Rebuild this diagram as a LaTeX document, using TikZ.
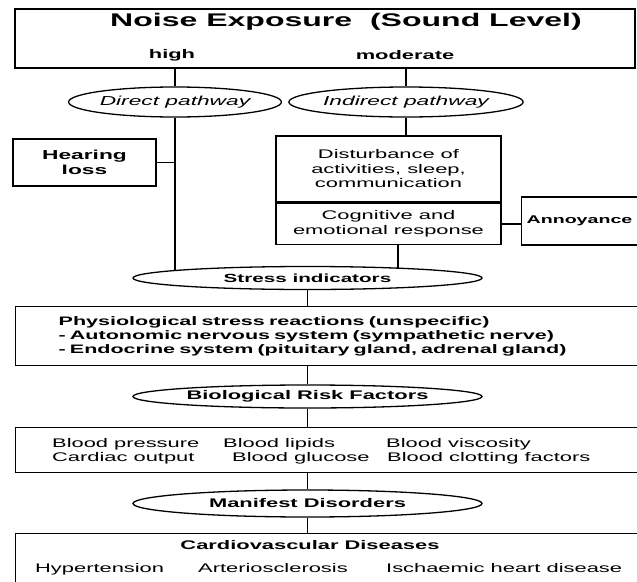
\documentclass[tikz,border=0pt]{standalone}
\usepackage{fontspec}
\setmainfont{Liberation Sans}[FakeStretch=1.75]
\usetikzlibrary{shapes.geometric,backgrounds}

\tikzset{
  panel/.style={draw, line width=1.3pt, rectangle, inner sep=0pt},
  lens/.style={draw, line width=1.3pt, ellipse, fill=white, inner sep=0pt},
  wire/.style={line width=1.7pt},
  entry/.style={inner sep=0pt, anchor=base west},
  big/.style={font=\fontsize{18.3}{20}\selectfont\bfseries},
  bold/.style={font=\fontsize{12.5}{14}\selectfont\bfseries},
  plain/.style={font=\fontsize{12.5}{14.5}\selectfont},
  slant/.style={font=\fontsize{13}{15}\selectfont\itshape},
}

\begin{document}
\begin{tikzpicture}[x=1pt, y=-1pt]
  \useasboundingbox (0,0) rectangle (637,581);

  % ==========================================
  % TOP: Noise exposure and the two pathways
  % ==========================================

  \node[panel, minimum width=620, minimum height=59] (noise) at (325,38.5) {};
  \node[big]  (title)    at (346,22) {Noise Exposure\ \ (Sound Level)};
  \node[bold] (high)     at (172,55) {high};
  \node[bold] (moderate) at (405,55) {moderate};

  \node[lens, slant, minimum width=205, minimum height=30] (direct)   at (175,102) {Direct pathway};
  \node[lens, slant, minimum width=213, minimum height=30] (indirect) at (406,102) {Indirect pathway};

  % Side effects of the pathways
  \node[panel, align=center, minimum width=143, minimum height=47,
        font=\fontsize{13}{15}\selectfont\bfseries] (hearing) at (84.5,162.5) {Hearing\\loss};
  \node[panel, plain, align=center, minimum width=225, minimum height=66] (disturb) at (388.5,169)
    {Disturbance of\\activities, sleep,\\communication};
  \node[panel, plain, align=center, minimum width=225, minimum height=41, anchor=north] (cognit) at (disturb.south)
    {Cognitive and\\emotional response};
  \node[panel, anchor=west, inner xsep=5pt, minimum height=48,
        font=\fontsize{11.2}{14}\selectfont\bfseries] (annoy) at (521,221) {Annoyance};

  % ==========================================
  % MIDDLE: Stress and risk factors
  % ==========================================

  \node[lens, font=\fontsize{11.8}{14}\selectfont\bfseries, minimum width=349, minimum height=23] (stress) at (307.5,278) {Stress indicators};

  \node[panel, anchor=north west, text width=560pt, inner xsep=43pt, minimum height=59, align=left,
        font=\fontsize{12.3}{14}\selectfont\bfseries] (physio) at (15,306)
    {Physiological stress reactions (unspecific)\\
     - Autonomic nervous system (sympathetic nerve)\\
     - Endocrine system (pituitary gland, adrenal gland)};

  \node[lens, bold, minimum width=349, minimum height=23] (bio) at (307.5,396.5) {Biological Risk Factors};

  \node[panel, anchor=north west, minimum width=650, minimum height=45] (blood) at (15,427) {};
  \node[plain, entry] (pressure) at (52,447)  {Blood pressure};
  \node[plain, entry] (lipids)   at (223,447) {Blood lipids};
  \node[plain, entry] (viscous)  at (386,447) {Blood viscosity};
  \node[plain, entry] (cardiac)  at (52,461)  {Cardiac output};
  \node[plain, entry] (glucose)  at (232,461) {Blood glucose};
  \node[plain, entry] (clotting) at (387,461) {Blood clotting factors};

  % ==========================================
  % BOTTOM: Disorders
  % ==========================================

  \node[lens, bold, minimum width=349, minimum height=27] (manifest) at (307.5,503.5) {Manifest Disorders};

  \node[panel, anchor=north west, minimum width=650, minimum height=70] (cardio) at (15,533) {};
  \node[bold] (cvd) at (310,545) {Cardiovascular Diseases};
  \node[plain, entry] (hyper)  at (35,572)  {Hypertension};
  \node[plain, entry] (artery) at (198,572) {Arteriosclerosis};
  \node[plain, entry] (heart)  at (386,572) {Ischaemic heart disease};

  % Connecting lines (behind the ellipses)
  \begin{scope}[on background layer]
    \draw[wire] (noise.south -| direct) -- (direct);
    \draw[wire] (direct) -- (direct |- stress);
    \draw[wire] (hearing.east) -- (hearing.east -| direct);
    \draw[wire] (noise.south -| indirect) -- (indirect);
    \draw[wire] (indirect) -- (indirect |- disturb.north);
    \draw[wire] (cognit.east) -- (cognit.east -| annoy.west);
    \draw[wire] ([xshift=9.5pt]cognit.south) -- ([xshift=9.5pt]cognit.south |- stress);
    \draw[wire] (stress) -- (stress |- physio.north);
    \draw[wire] (physio.south -| bio) -- (bio);
    \draw[wire] (bio) -- (bio |- blood.north);
    \draw[wire] (blood.south -| manifest) -- (manifest);
    \draw[wire] (manifest) -- (manifest |- cardio.north);
  \end{scope}

\end{tikzpicture}
\end{document}
